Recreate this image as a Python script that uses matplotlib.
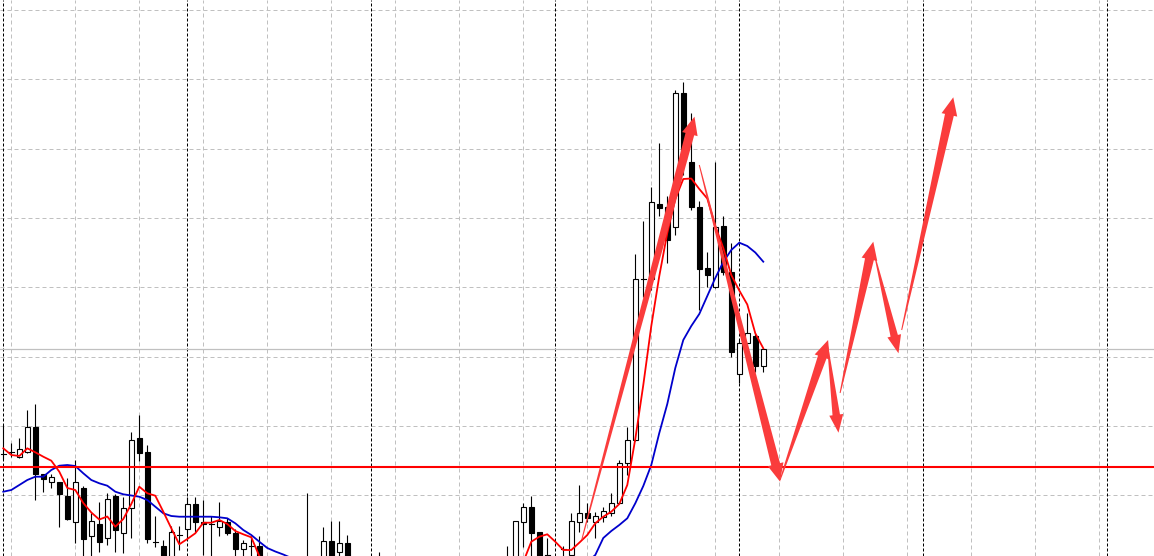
import matplotlib
matplotlib.use('Agg')
import matplotlib.pyplot as plt
import numpy as np
from matplotlib.patches import Polygon, Rectangle
from matplotlib.transforms import IdentityTransform

# ---------------- data (price in chart points) ----------------
opens = [146, 148, 142.7, 147.7, 172.7, 125.7, 117.7, 117.7, 104, 78.3,
         111.7, 64.3, 76, 61.7, 104, 67.5, 92.5, 161.7, 148, 58.5,
         54, 35, 65, 71, 95.7, 78.5, 76, 72.7, 78.3, 67.5,
         51, 54, 54, 30, 22, 16, 25, 18, 24, 36,
         28, 59, 48, 56.7, 35, 26, 30, 20, 30, 22,
         14, 20, 12, 18, 22, 16, 10, 18, 24, 20,
         28, 24, 30, 34, 36, 78.3, 92.7, 68, 45, 40,
         51, 45, 78.5, 86.7, 78.3, 82.7, 87.3, 97.3, 136.7, 160,
         321, 321, 396, 393, 373.3, 506.7, 437.7, 392.7, 331.7, 313,
         374, 328.3, 226, 256.7, 264, 234]
highs = [175, 157, 161.7, 190, 195.7, 126, 125.7, 118, 122, 140,
         114, 86.7, 97.7, 106.7, 106, 103, 168, 185, 155, 84,
         60, 74, 74, 103, 103, 100, 84, 97.7, 82, 71,
         60, 64, 64, 38, 34, 30, 36, 28, 107, 42,
         73, 79.3, 79, 65, 40, 38, 36, 48.3, 38, 32,
         26, 30, 24, 28, 34, 26, 22, 30, 36, 32,
         38, 34, 40, 54, 79, 96.7, 104, 68.5, 62, 43,
         54, 87.3, 115, 97, 88, 93.5, 106.7, 140, 173.3, 345.7,
         379, 413, 456.7, 404, 510, 518, 487.3, 399, 348.3, 438,
         384.5, 356.7, 260, 286.7, 267, 250.7]
lows = [141, 143, 142, 147, 100, 108.3, 111.7, 73.3, 80, 57,
        40, 42, 48.3, 55, 48, 47, 62, 139, 57, 53,
        25, 30, 50, 60, 68, 45, 40, 64, 65, 40,
        40, 35, 25, 18, 12, 8, 14, 10, 15, 20,
        24, 28, 42, 28, 22, 14, 16, 12, 18, 10,
        6, 8, 4, 8, 12, 6, 2, 10, 14, 10,
        18, 14, 20, 24, 32, 53.3, 40, 30, 40, 32,
        44, 42, 68, 78, 62, 78, 84, 97, 125, 159,
        303, 310, 384, 337, 365, 425, 390, 290, 312.7, 312.5,
        325, 242.7, 217, 256, 228.3, 228.3]
closes = [146, 148, 150.7, 172.7, 125.7, 120.7, 122.7, 106.3, 81, 117.7,
          61.5, 79, 58.3, 100.7, 70, 92.5, 160, 147.5, 61.5, 58.5,
          35, 68, 65, 95.7, 78.5, 76, 76, 79.5, 67.5, 51,
          57, 54, 30, 22, 16, 25, 18, 24, 36, 28,
          59, 35, 56.7, 35, 26, 30, 20, 30, 22, 14,
          20, 12, 18, 22, 16, 10, 18, 24, 20, 28,
          24, 30, 34, 38, 79, 92.7, 67.3, 35, 45, 42,
          51, 79, 86.7, 81.7, 84, 89.3, 97.3, 136.7, 160, 321,
          321, 398.5, 392.5, 360, 506.7, 440, 392.7, 331.5, 325.5, 373.3,
          328.3, 248.3, 256.7, 267.3, 234, 250.7]

ma_fast = [151.7, 145, 144, 151.7, 147.7, 143.3, 139.3, 128.3, 112, 110,
           97, 87.5, 80.5, 83.5, 73.3, 81, 96, 113.3, 106.7, 104.3,
           88.3, 71.7, 55.7, 61, 66.7, 77.3, 77.3, 80, 76, 69,
           65.7, 62.7, 44, 35, 30, 27, 25, 28, 30, 33,
           36, 35, 33, 30, 27, 26, 25, 22, 20, 18,
           17, 18, 19, 18, 17, 16, 18, 20, 22, 25,
           27, 29, 31, 33, 34, 38, 58.3, 63.3, 65.7, 58.3,
           50, 50, 57.3, 65, 76.7, 83.3, 88.3, 96, 115, 161,
           215, 274, 324, 367, 401, 421, 421.5, 411, 401.5, 374,
           352, 325, 309.5, 295.5, 266.7, 251.7]
ma_slow = [108.3, 110, 115, 120, 123.3, 123.3, 130, 134.3, 135, 134,
           126.7, 120, 116.7, 114.3, 108.3, 105.7, 104.5, 103.3, 100, 93.3,
           86.7, 84, 83.3, 83.3, 83.3, 83.3, 83.3, 82.7, 81.7, 76.7,
           70, 65, 58.3, 52, 48.5, 45.5, 42, 39, 36, 34,
           33, 33, 32, 31, 30, 29, 28, 27, 26, 25,
           24, 23, 22, 21, 20, 20, 19, 19, 19, 20,
           20, 21, 22, 23, 25, 27, 28, 29, 30, 31,
           32, 33, 35, 38, 45, 62, 69, 75, 81.7, 96.7,
           114, 135, 167, 196, 232, 260, 274, 286, 304, 322,
           338, 350, 357.3, 354, 347.5, 338.3]

level_line = 133.3          # red horizontal level
bid_price = 250.7           # current price line

# forecast arrows: (bar_start, price_start, bar_end, price_end)
arrows = [(72.3, 60, 86.4, 483.3),
          (87.0, 435, 97.1, 118.3),
          (97.1, 120, 103.1, 260),
          (103.05, 253.3, 104.4, 167.3),
          (104.6, 207, 108.75, 358.3),
          (108.96, 343.3, 111.9, 246.7),
          (112.3, 270, 118.75, 502.7)]

price_grid = [104.7, 174.0, 243.3, 312.7, 382.0, 451.3, 520.7, 590.0]
time_grid = list(range(1, 144, 8))
period_sep = list(range(0, 144, 23))

# ---------------- figure ----------------
W, H = 1154, 556
fig = plt.figure(figsize=(W / 100, H / 100), dpi=100)
ax = fig.add_axes([0, 0, 1, 1])
ax.set_xlim(-0.4125, 143.84)
ax.set_ylim(44, 600)
ax.axis('off')
fig.patch.set_facecolor('white')

grey = '#c0c0c0'
for p in price_grid:
    ax.axhline(p, color=grey, lw=0.72, ls=(0, (4, 3)), zorder=1)
for t in time_grid:
    ax.axvline(t, color=grey, lw=0.72, ls=(0, (4, 3)), zorder=1)
for t in period_sep:
    ax.axvline(t, color='black', lw=0.72, ls=(0, (3, 2)), zorder=1)

ax.axhline(bid_price, color=grey, lw=0.9, zorder=1.5)

bw = 0.62
for i, (o, h, l, c) in enumerate(zip(opens, highs, lows, closes)):
    ax.plot([i, i], [l, h], color='black', lw=0.8, zorder=2, solid_capstyle='butt')
    if abs(c - o) < 1e-9:
        ax.plot([i - bw / 2, i + bw / 2], [o, o], color='black', lw=0.8, zorder=3)
    else:
        fc = 'white' if c > o else 'black'
        ax.add_patch(Rectangle((i - bw / 2, min(o, c)), bw, abs(c - o),
                               facecolor=fc, edgecolor='black', lw=0.8, zorder=3))

x = np.arange(len(ma_fast))
ax.plot(x, ma_slow, color='#0000cc', lw=1.3, zorder=4)
ax.plot(x, ma_fast, color='#ff0000', lw=1.3, zorder=4)
ax.axhline(level_line, color='#ff0000', lw=1.5, zorder=5)

# arrows drawn in pixel space so the shape is not distorted
fig.canvas.draw()
def arrow_poly(p0, p1, w_tail=1.0, w_shaft=9.0, head_w=16.0, head_len=18.0):
    p0 = np.asarray(p0, float); p1 = np.asarray(p1, float)
    d = p1 - p0
    L = np.hypot(*d)
    u = d / L
    n = np.array([-u[1], u[0]])
    base = p1 - u * head_len
    pts = [p0 + n * w_tail / 2, base + n * w_shaft / 2, base + n * head_w / 2, p1,
           base - n * head_w / 2, base - n * w_shaft / 2, p0 - n * w_tail / 2]
    return np.array(pts)

for (b0, v0, b1, v1) in arrows:
    p0 = ax.transData.transform((b0, v0))
    p1 = ax.transData.transform((b1, v1))
    length = np.hypot(*(p1 - p0))
    ws = 9.0 if length > 120 else 7.5
    hw = 16.0 if length > 120 else 14.0
    poly = Polygon(arrow_poly(p0, p1, w_shaft=ws, head_w=hw), closed=True,
                   facecolor='#fa3c3c', edgecolor='none', transform=IdentityTransform(),
                   zorder=10)
    ax.add_patch(poly)

fig.savefig('out.png', dpi=100, facecolor='white')
